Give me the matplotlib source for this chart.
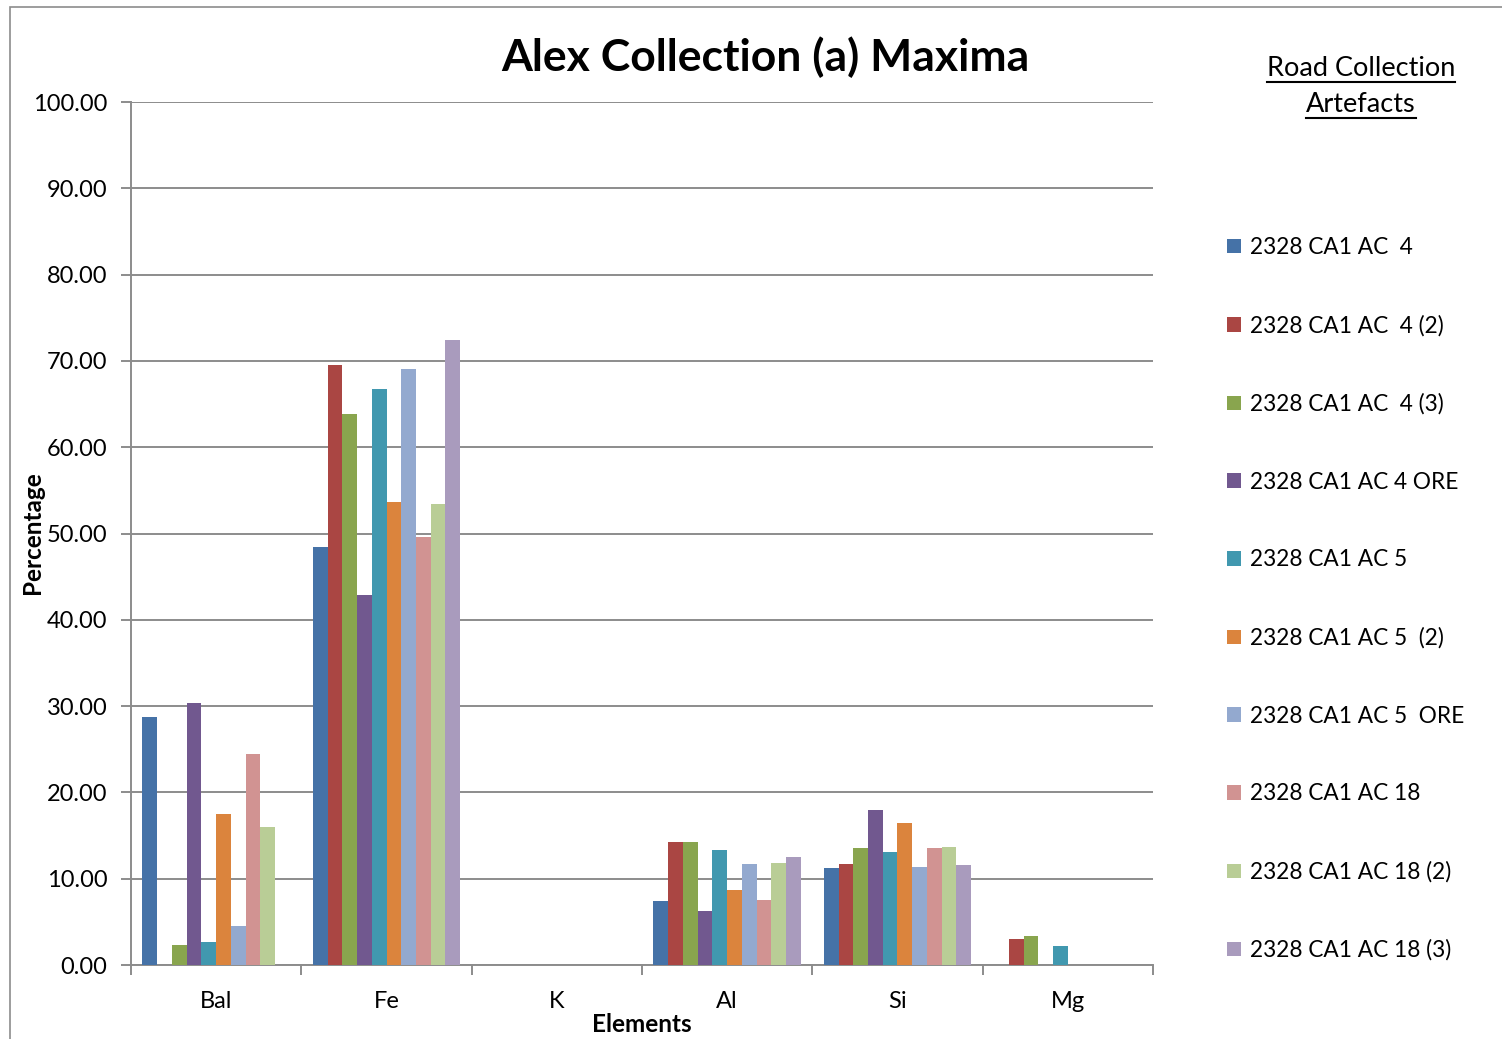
import matplotlib
matplotlib.use("Agg")
import matplotlib.pyplot as plt
import numpy as np
from matplotlib.patches import Rectangle
from matplotlib.lines import Line2D

plt.rcParams['font.family'] = ['Lato', 'DejaVu Sans']

elements = ["Bal", "Fe", "K", "Al", "Si", "Mg"]
series_names = ["2328 CA1 AC  4", "2328 CA1 AC  4 (2)", "2328 CA1 AC  4 (3)",
                "2328 CA1 AC 4 ORE", "2328 CA1 AC 5", "2328 CA1 AC 5  (2)",
                "2328 CA1 AC 5  ORE", "2328 CA1 AC 18", "2328 CA1 AC 18 (2)",
                "2328 CA1 AC 18 (3)"]
# values per series, in element order Bal, Fe, K, Al, Si, Mg
ac4     = [28.7, 48.4, 0, 7.4, 11.2, 0]
ac4_2   = [0, 69.5, 0, 14.25, 11.7, 3.0]
ac4_3   = [2.3, 63.9, 0, 14.25, 13.5, 3.4]
ac4_ore = [30.4, 42.9, 0, 6.3, 18.0, 0]
ac5     = [2.7, 66.8, 0, 13.3, 13.1, 2.2]
ac5_2   = [17.5, 53.6, 0, 8.7, 16.45, 0]
ac5_ore = [4.5, 69.1, 0, 11.7, 11.3, 0]
ac18    = [24.4, 49.6, 0, 7.5, 13.5, 0]
ac18_2  = [16.0, 53.4, 0, 11.8, 13.7, 0]
ac18_3  = [0, 72.4, 0, 12.5, 11.6, 0]
values = [ac4, ac4_2, ac4_3, ac4_ore, ac5, ac5_2, ac5_ore, ac18, ac18_2, ac18_3]
colors = ["#4572A7", "#AA4643", "#89A54E", "#71588F", "#4198AF",
          "#DB843D", "#93A9CF", "#D19392", "#B9CD96", "#A99BBD"]

W, H = 1502, 1039
fig = plt.figure(figsize=(W / 100, H / 100), dpi=100)

# outer chart border
fig.add_artist(Rectangle((10 / W, -0.05), 1.2, 1 - 7 / H + 0.05,
                         transform=fig.transFigure, fill=False,
                         edgecolor="#8c8c8c", linewidth=1.2))

ax = fig.add_axes([131 / W, 74 / H, (1153 - 131) / W, (965 - 102) / H])
n = len(values)
bw = 0.0865
x = np.arange(len(elements)) + 0.5
for j, (vals, c, name) in enumerate(zip(values, colors, series_names)):
    ax.bar(x + (j - (n - 1) / 2) * bw, vals, width=bw, color=c,
           edgecolor="none", label=name, zorder=3)

ax.set_xlim(0, len(elements))
ax.set_ylim(0, 100)
ax.set_yticks(np.arange(0, 101, 10))
ax.set_yticklabels([f"{v:.2f}" for v in np.arange(0, 101, 10)], fontsize=17)
ax.yaxis.grid(True, color="#8c8c8c", linewidth=1.4, zorder=0)
ax.set_axisbelow(True)

ax.set_xticks(x)
ax.set_xticklabels(elements, fontsize=17)
ax.set_xticks(np.arange(0, len(elements) + 1), minor=True)
ax.tick_params(axis="x", which="major", length=0, pad=19)
ax.tick_params(axis="x", which="minor", length=7, width=1.4, color="#8c8c8c")
ax.tick_params(axis="y", length=7, width=1.4, color="#8c8c8c", pad=10)

for s in ["top", "right"]:
    ax.spines[s].set_visible(False)
for s in ["left", "bottom"]:
    ax.spines[s].set_color("#8c8c8c")
    ax.spines[s].set_linewidth(1.4)

fig.text(765 / W, 1 - 57 / H, "Alex Collection (a) Maxima", fontsize=32,
         fontweight="bold", ha="center", va="center")
fig.text(32 / W, 1 - 533 / H, "Percentage", fontsize=17.5, fontweight="bold",
         rotation=90, ha="center", va="center")
fig.text(642 / W, 1 - 1025 / H, "Elements", fontsize=17.5, fontweight="bold",
         ha="center", va="center")

# legend title (underlined)
for txt, yy in [("Road Collection", 68), ("Artefacts", 104)]:
    t = fig.text(1361 / W, 1 - yy / H, txt, fontsize=19.5, ha="center", va="center")
    fig.canvas.draw()
    bb = t.get_window_extent()
    fig.add_artist(Line2D([bb.x0 / W, bb.x1 / W],
                          [(bb.y0 - 1) / H, (bb.y0 - 1) / H],
                          transform=fig.transFigure, color="black", linewidth=1.5))

handles, labels = ax.get_legend_handles_labels()
fig.legend(handles, labels, loc="upper left",
           bbox_to_anchor=(1218 / W, 1 - 228 / H), frameon=False,
           fontsize=16.3, handlelength=0.6, handleheight=0.6,
           handletextpad=0.4, labelspacing=2.51, borderaxespad=0)

fig.savefig("out.png", dpi=100)
